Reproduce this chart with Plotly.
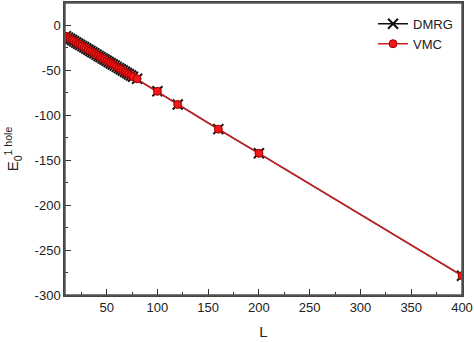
import plotly.graph_objects as go

L_vals = [10, 12, 14, 16, 18, 20, 22, 24, 26, 28, 30, 32, 34, 36, 38, 40, 42, 44,
          46, 48, 50, 52, 54, 56, 58, 60, 62, 64, 66, 68, 70, 72, 74, 76,
          80, 100, 120, 160, 200, 400]
E_dmrg = [-12.1, -13.5, -14.8, -16.2, -17.5, -18.9, -20.3, -21.6, -23.0, -24.3,
          -25.7, -27.1, -28.4, -29.8, -31.1, -32.5, -33.9, -35.2, -36.6, -37.9,
          -39.3, -40.7, -42.0, -43.4, -44.7, -46.1, -47.5, -48.8, -50.2, -51.5,
          -52.9, -54.3, -55.6, -57.0, -59.3, -73.3, -87.9, -115.4, -142.3, -278.5]
E_vmc = [-12.1, -13.5, -14.8, -16.2, -17.5, -18.9, -20.3, -21.6, -23.0, -24.3,
         -25.7, -27.1, -28.4, -29.8, -31.1, -32.5, -33.9, -35.2, -36.6, -37.9,
         -39.3, -40.7, -42.0, -43.4, -44.7, -46.1, -47.5, -48.8, -50.2, -51.5,
         -52.9, -54.3, -55.6, -57.0, -59.3, -73.3, -87.9, -115.4, -142.3, -278.5]

x_ticks = [50, 100, 150, 200, 250, 300, 350, 400]
y_ticks = [0, -50, -100, -150, -200, -250, -300]

FONT = "Liberation Sans, Arial"

fig = go.Figure()
fig.add_trace(go.Scatter(
    x=L_vals, y=E_dmrg, name="DMRG", mode="lines+markers",
    line=dict(color="#111111", width=1.5),
    marker=dict(symbol="x-thin", size=10, line=dict(color="#111111", width=2)),
))
fig.add_trace(go.Scatter(
    x=L_vals, y=E_vmc, name="VMC", mode="lines+markers",
    line=dict(color="#d42020", width=1.5),
    marker=dict(symbol="circle", size=8, color="#f01818",
                line=dict(color="#a00000", width=1)),
))

axis_common = dict(
    showgrid=False, zeroline=False, showline=True, linecolor="#444444",
    linewidth=1.5, mirror=True, ticks="inside", ticklen=6, tickwidth=1.2,
    tickcolor="#333333", tickfont=dict(family=FONT, size=13, color="#222222"),
)

fig.update_xaxes(range=[9, 400], tickvals=x_ticks, ticktext=[str(v) for v in x_ticks],
                 title=dict(text="L", font=dict(family=FONT, size=15, color="#222222"),
                            standoff=12),
                 minor=dict(ticks="inside", ticklen=3, tickwidth=1, tickcolor="#333333",
                            tickvals=[25, 75, 125, 175, 225, 275, 325, 375]),
                 **axis_common)
fig.update_yaxes(range=[-300, 25], tickvals=y_ticks, ticktext=[str(v) for v in y_ticks],
                 title=dict(text="E<sub>0</sub><sup>1 hole</sup>",
                            font=dict(family=FONT, size=15, color="#222222"),
                            standoff=12),
                 minor=dict(ticks="inside", ticklen=3, tickwidth=1, tickcolor="#333333",
                            tickvals=[-25, -75, -125, -175, -225, -275]),
                 **axis_common)

fig.add_shape(type="rect", xref="x domain", yref="y domain", x0=0, x1=1, y0=0, y1=1,
              line=dict(color="#555555", width=1.5), fillcolor="rgba(0,0,0,0)", layer="above")

fig.update_layout(
    width=474, height=342,
    margin=dict(l=65, r=12, t=3, b=47, autoexpand=False),
    paper_bgcolor="white", plot_bgcolor="white",
    showlegend=True,
    legend=dict(x=0.99, y=0.98, xanchor="right", yanchor="top",
                bgcolor="rgba(0,0,0,0)", itemwidth=30,
                font=dict(family=FONT, size=13, color="#222222"),
                tracegroupgap=0),
)

fig.write_html("out.html", config={"displayModeBar": False},
               post_script="document.body.style.margin='0';")
